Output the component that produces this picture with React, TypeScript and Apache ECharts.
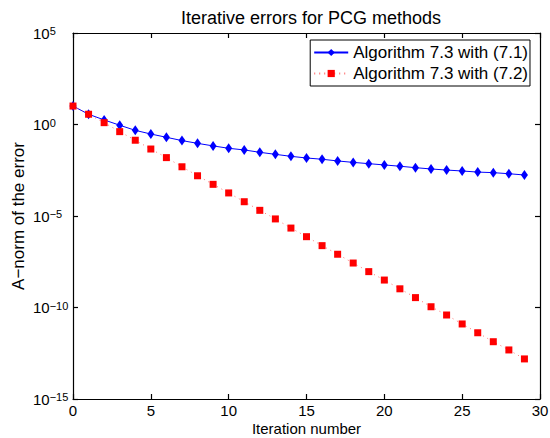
import React, { useEffect, useRef } from "react";
import * as echarts from "echarts";

const iterations = Array.from({ length: 30 }, (_, i) => i);
const seriesNames = ["Algorithm 7.3 with (7.1)", "Algorithm 7.3 with (7.2)"];
const errors71 = [
  10.2, 3.63, 1.78, 0.912, 0.479, 0.302, 0.2, 0.132, 0.0933, 0.0676,
  0.0501, 0.0407, 0.0302, 0.0234, 0.0182, 0.0148, 0.0126, 0.0102, 0.00851, 0.00724,
  0.00617, 0.00525, 0.00437, 0.00372, 0.00324, 0.00288, 0.00251, 0.00234, 0.00204, 0.00174,
];
const errors72 = [
  10.2, 3.63, 1.26, 0.407, 0.138, 0.0457, 0.0155, 4.9e-3, 1.58e-3, 5.37e-4,
  1.82e-4, 6.03e-5, 2.04e-5, 6.92e-6, 2.19e-6, 7.41e-7, 2.4e-7, 8.13e-8, 2.69e-8, 9.12e-9,
  3.16e-9, 1.05e-9, 3.47e-10, 1.1e-10, 3.89e-11, 1.26e-11, 4.17e-12, 1.35e-12, 4.79e-13, 1.55e-13,
];
const xTicks = [0, 30, 5];
const yExpRange = [-15, 5, 5];

const FONT = "Liberation Sans, Arial, Helvetica, sans-serif";

export default function App() {
  const ref = useRef<HTMLDivElement>(null);
  useEffect(() => {
    if (!ref.current) return;
    const chart = echarts.init(ref.current, null, { renderer: "svg" });
    const axisLineStyle = { color: "#000", width: 1.2 };
    const yMin = Math.pow(10, yExpRange[0]);
    const yMax = Math.pow(10, yExpRange[1]);
    chart.setOption({
      animation: false,
      backgroundColor: "#fff",
      textStyle: { fontFamily: FONT },
      title: {
        text: "Iterative errors for PCG methods",
        left: 306,
        textAlign: "center",
        top: 4,
        textStyle: { fontSize: 18, fontWeight: "normal", color: "#000", fontFamily: FONT },
      },
      legend: {
        orient: "vertical",
        right: 20,
        top: 40,
        backgroundColor: "#fff",
        borderColor: "#000",
        borderWidth: 1,
        borderRadius: 0,
        padding: [4, 2, 4, 3],
        itemWidth: 34,
        itemHeight: 9,
        itemGap: 4,
        textStyle: { fontSize: 17, color: "#000", fontFamily: FONT },
        data: seriesNames,
      },
      grid: { left: 73, right: 10, top: 33, bottom: 39, containLabel: false, outerBoundsMode: "none" },
      xAxis: [
        {
          type: "value",
          min: xTicks[0],
          max: xTicks[1],
          interval: xTicks[2],
          name: "Iteration number",
          nameLocation: "middle",
          nameGap: 22,
          nameMoveOverlap: false,
          nameTextStyle: { fontSize: 15, lineHeight: 14, color: "#000", fontFamily: FONT },
          axisLine: { show: true, onZero: false, lineStyle: axisLineStyle },
          axisTick: { show: true, inside: true, length: 5, lineStyle: axisLineStyle },
          axisLabel: { fontSize: 15, lineHeight: 14, color: "#000", margin: 4, fontFamily: FONT },
          splitLine: { show: false },
        },
        {
          type: "value",
          position: "top",
          min: xTicks[0],
          max: xTicks[1],
          interval: xTicks[2],
          axisLine: { show: true, onZero: false, lineStyle: axisLineStyle },
          axisTick: { show: true, inside: true, length: 5, lineStyle: axisLineStyle },
          axisLabel: { show: false },
          splitLine: { show: false },
        },
      ],
      yAxis: [
        {
          type: "log",
          logBase: 10,
          min: yMin,
          max: yMax,
          interval: yExpRange[2],
          name: "A\u2212norm of the error",
          nameLocation: "middle",
          nameGap: 46,
          nameMoveOverlap: false,
          nameTextStyle: { fontSize: 17, color: "#000", fontFamily: FONT },
          axisLine: { show: true, onZero: false, lineStyle: axisLineStyle },
          axisTick: { show: true, inside: true, length: 5, lineStyle: axisLineStyle },
          axisLabel: {
            showMinLabel: true,
            showMaxLabel: true,
            align: "left",
            margin: 40,
            formatter: (v: number) => {
              const e = Math.round(Math.log10(v));
              const s = e < 0 ? "\u2212" + Math.abs(e) : String(e);
              return "{b|10}{s|" + s + "}";
            },
            rich: {
              b: { fontSize: 15, color: "#000", fontFamily: FONT, lineHeight: 15, padding: [6, 0, 6, 0] },
              s: { fontSize: 11, color: "#000", fontFamily: FONT, lineHeight: 11, padding: [0, 0, 16, 0], verticalAlign: "top" },
            },
          },
          splitLine: { show: false },
        },
        {
          type: "log",
          logBase: 10,
          position: "right",
          min: yMin,
          max: yMax,
          interval: yExpRange[2],
          axisLine: { show: true, onZero: false, lineStyle: axisLineStyle },
          axisTick: { show: true, inside: true, length: 5, lineStyle: axisLineStyle },
          axisLabel: { show: false },
          splitLine: { show: false },
        },
      ],
      series: [
        {
          name: seriesNames[0],
          type: "line",
          xAxisIndex: 0,
          yAxisIndex: 0,
          data: iterations.map((x, i) => [x, errors71[i]]),
          symbol: "diamond",
          symbolSize: [7, 10],
          itemStyle: { color: "#0000ff" },
          lineStyle: { color: "#0000ff", width: 1 },
        },
        {
          name: seriesNames[1],
          type: "line",
          xAxisIndex: 0,
          yAxisIndex: 0,
          data: iterations.map((x, i) => [x, errors72[i]]),
          symbol: "rect",
          symbolSize: 7,
          itemStyle: { color: "#ff0000" },
          lineStyle: { color: "#ff7070", width: 1, type: [1, 4] },
          z: 3,
        },
      ],
    });
    return () => chart.dispose();
  }, []);
  return <div ref={ref} style={{ width: 550, height: 438, position: "absolute", left: 0, top: 0 }} />;
}
